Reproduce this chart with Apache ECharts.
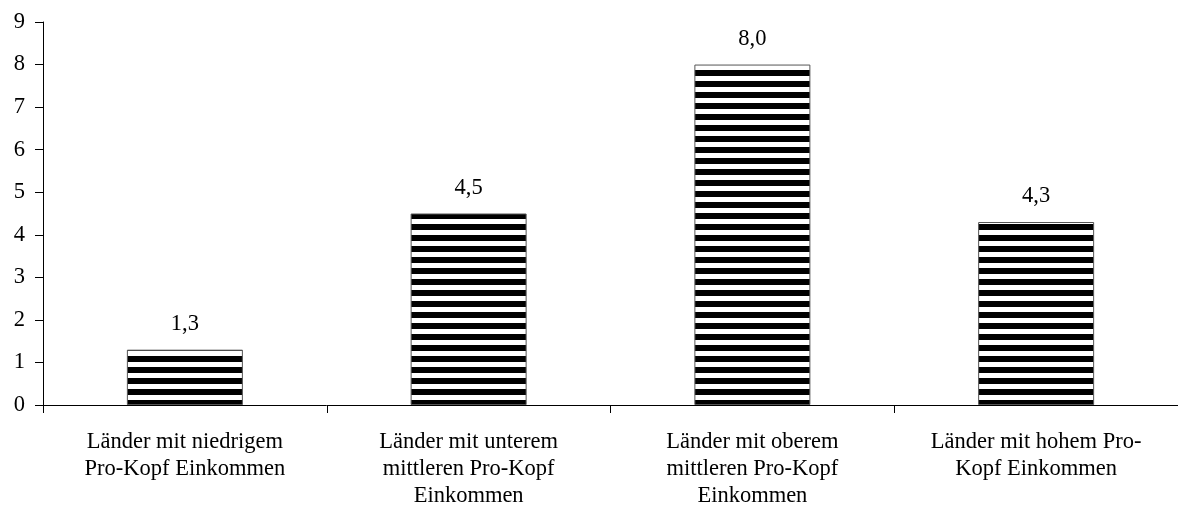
<!DOCTYPE html>
<html><head><meta charset="utf-8">
<script src="https://cdn.jsdelivr.net/npm/echarts@6/dist/echarts.min.js"></script>
<style>html,body{margin:0;padding:0;background:#fff}#c{width:1178px;height:522px}</style>
</head><body><div id="c"></div>
<script>
const categories = [
  "Länder mit niedrigem\nPro-Kopf Einkommen",
  "Länder mit unterem\nmittleren Pro-Kopf\nEinkommen",
  "Länder mit oberem\nmittleren Pro-Kopf\nEinkommen",
  "Länder mit hohem Pro-\nKopf Einkommen"
];
const values = [1.3, 4.5, 8.0, 4.3];
const yTicks = { min: 0, max: 9, interval: 1 };

const pc = document.createElement('canvas');
pc.width = 4; pc.height = 11;
const ctx = pc.getContext('2d');
ctx.fillStyle = '#fff'; ctx.fillRect(0, 0, 4, 11);
ctx.fillStyle = '#000'; ctx.fillRect(0, 4, 4, 6);

const font = '"Liberation Serif", "Times New Roman", serif';
const chart = echarts.init(document.getElementById('c'), null, { renderer: 'canvas', devicePixelRatio: 1 });
chart.setOption({
  animation: false,
  grid: { left: 43, right: 0, top: 22, bottom: 117, containLabel: false },
  xAxis: {
    type: 'category', data: categories,
    axisLine: { lineStyle: { color: '#000', width: 1 } },
    axisTick: { show: true, length: 8, lineStyle: { color: '#000' } },
    axisLabel: { color: '#000', fontFamily: font, fontSize: 22.5, lineHeight: 27, margin: 24, interval: 0 }
  },
  yAxis: {
    type: 'value', min: yTicks.min, max: yTicks.max, interval: yTicks.interval,
    splitLine: { show: false },
    axisLine: { show: true, lineStyle: { color: '#000', width: 1 } },
    axisTick: { show: true, length: 8, lineStyle: { color: '#000' } },
    axisLabel: { color: '#000', fontFamily: font, fontSize: 22.5, margin: 18 }
  },
  series: [{
    type: 'bar', data: values, barWidth: 116,
    itemStyle: { color: { image: pc, repeat: 'repeat' }, borderColor: '#555', borderWidth: 1 },
    label: {
      show: true, position: 'top', distance: 14, color: '#000', fontFamily: font, fontSize: 22.5,
      formatter: p => p.value.toFixed(1).replace('.', ',')
    }
  }]
});
</script></body></html>
